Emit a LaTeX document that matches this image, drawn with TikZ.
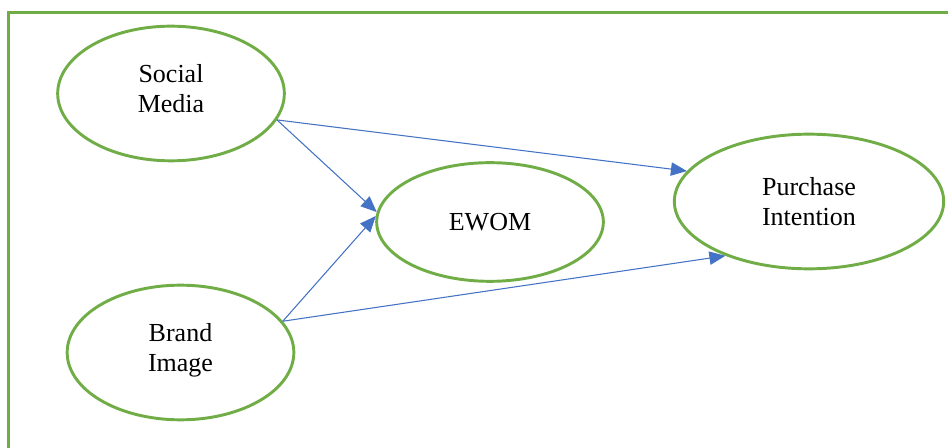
\documentclass[tikz,border=0pt]{standalone}
\usepackage{fontspec}
\setmainfont{Liberation Serif}
\usetikzlibrary{arrows.meta,shapes.geometric}
\definecolor{framegreen}{RGB}{112,173,71}
\definecolor{arrowblue}{RGB}{68,114,196}

\begin{document}
\begin{tikzpicture}[x=0.75pt,y=-0.75pt,
		main node/.style={ellipse,draw=framegreen,line width=2.2pt,align=center,
			font=\fontsize{19.5}{22.5}\selectfont},
		link/.style={draw,color=arrowblue,line width=0.8pt,
			-{Triangle[length=12pt,width=10pt]}}]

		\clip (0,0) rectangle (948,448);
		\draw[framegreen,line width=2pt] (8.5,460) -- (8.5,12.5) -- (960,12.5);

		\node[main node,minimum width=170pt,minimum height=101pt,text depth=8pt] (social) at (171,93.5) {Social\\Media};
		\node[main node,minimum width=170pt,minimum height=101pt,text depth=7pt] (brand) at (180.5,352.5) {Brand\\Image};
		\node[main node,minimum width=170pt,minimum height=89pt] (ewom) at (490,222) {EWOM};
		\node[main node,minimum width=202pt,minimum height=101pt] (purchase) at (809,201.5) {Purchase\\Intention};

		\path[every edge/.style={link}]
		(social.-14) edge (ewom.175)
		edge (purchase.166)
		(brand.17) edge (ewom.177)
		edge (purchase.213);
	\end{tikzpicture}
\end{document}
